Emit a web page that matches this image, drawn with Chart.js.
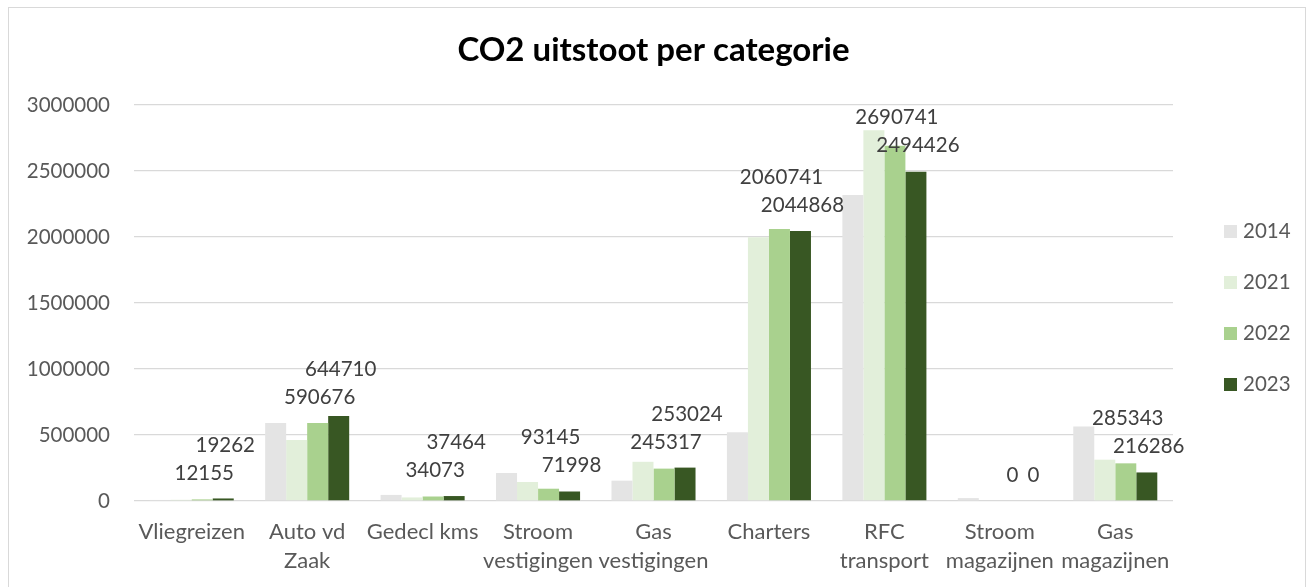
<!DOCTYPE html>
<html>
<head>
<meta charset="utf-8">
<script src="https://cdn.jsdelivr.net/npm/chart.js@4.4.1/dist/chart.umd.min.js"></script>
<style>
  html, body { margin: 0; padding: 0; background: #ffffff; }
  #wrap { width: 1314px; height: 587px; }
</style>
</head>
<body>
<div id="wrap"><canvas id="c" width="1314" height="587"></canvas></div>
<script>
// ---- data ----
const categories = [
  ['Vliegreizen'], ['Auto vd', 'Zaak'], ['Gedecl kms'], ['Stroom', 'vestigingen'],
  ['Gas', 'vestigingen'], ['Charters'], ['RFC', 'transport'], ['Stroom', 'magazijnen'], ['Gas', 'magazijnen']
];
const seriesNames = ['2014', '2021', '2022', '2023'];
const values2014 = [8000, 590000, 46000, 212000, 154000, 520000, 2318000, 22000, 565000];
const values2021 = [9000, 463000, 27000, 144000, 297000, 1998000, 2808000, 0, 313000];
const values2022 = [12155, 590676, 34073, 93145, 245317, 2060741, 2690741, 0, 285343];
const values2023 = [19262, 644710, 37464, 71998, 253024, 2044868, 2494426, 0, 216286];
const yTicks = [0, 500000, 1000000, 1500000, 2000000, 2500000, 3000000];
const titleText = 'CO2 uitstoot per categorie';

const seriesValues = [values2014, values2021, values2022, values2023];
const seriesColors = ['#e4e4e4', '#e2efda', '#a9d18e', '#385723'];
const labelledSeries = [2, 3];

const NUM_FONT = '20.5px Lato';

const framePlugin = {
  id: 'frame',
  beforeDraw(chart) {
    const ctx = chart.ctx;
    ctx.save();
    ctx.fillStyle = '#ffffff';
    ctx.fillRect(0, 0, chart.width, chart.height);
    ctx.restore();
  },
  afterDraw(chart) {
    const ctx = chart.ctx;
    const area = chart.chartArea;
    ctx.save();
    // outer border
    ctx.strokeStyle = '#d9d9d9';
    ctx.lineWidth = 1;
    ctx.strokeRect(8.5, 7.5, chart.width - 17, chart.height + 10);
    // legend
    const midY = (area.top + area.bottom) / 2 + 5;
    ctx.font = NUM_FONT;
    ctx.textAlign = 'left';
    ctx.textBaseline = 'middle';
    seriesNames.forEach((name, i) => {
      const y = midY + (i - 1.5) * 51;
      ctx.fillStyle = seriesColors[i];
      ctx.fillRect(area.right + 51, y - 6.5, 13, 13);
      ctx.fillStyle = '#595959';
      ctx.fillText(name, area.right + 70, y);
    });
    ctx.restore();
  }
};

const labelPlugin = {
  id: 'valueLabels',
  afterDatasetsDraw(chart) {
    const ctx = chart.ctx;
    ctx.save();
    ctx.font = NUM_FONT;
    ctx.fillStyle = '#404040';
    ctx.textAlign = 'center';
    ctx.textBaseline = 'middle';
    categories.forEach((c, i) => {
      const items = labelledSeries.map(di => {
        const bar = chart.getDatasetMeta(di).data[i];
        const v = chart.data.datasets[di].data[i];
        const text = String(v);
        return { x: bar.x + 2, y: bar.y - 26, w: ctx.measureText(text).width, text, v };
      }).sort((a, b) => a.v - b.v);
      const placed = [];
      items.forEach(it => {
        placed.forEach(p => {
          if (Math.abs(it.x - p.x) < (it.w + p.w) / 2 && Math.abs(it.y - p.y) < 30) {
            it.y = p.y - 28;
          }
        });
        placed.push(it);
        ctx.fillText(it.text, it.x, it.y);
      });
    });
    ctx.restore();
  }
};

new Chart(document.getElementById('c'), {
  type: 'bar',
  data: {
    labels: categories,
    datasets: seriesNames.map((name, i) => ({
      label: name,
      data: seriesValues[i],
      backgroundColor: seriesColors[i],
      borderWidth: 0,
      categoryPercentage: 0.728,
      barPercentage: 1.0
    }))
  },
  options: {
    responsive: false,
    animation: false,
    devicePixelRatio: 1,
    layout: { padding: { left: 8, right: 141, top: 0, bottom: 0 } },
    plugins: {
      legend: { display: false },
      tooltip: { enabled: false },
      title: {
        display: true,
        text: titleText,
        fullSize: false,
        color: '#000000',
        font: { family: 'Lato', size: 33, weight: 'bold', lineHeight: 1.2 },
        padding: { top: 31, bottom: 34.4 }
      }
    },
    scales: {
      x: {
        grid: { display: false, drawTicks: false },
        border: { display: false },
        ticks: {
          color: '#595959',
          font: { family: 'Lato', size: 22, lineHeight: 1.34 },
          padding: 16,
          maxRotation: 0,
          minRotation: 0,
          autoSkip: false
        },
        afterFit(scale) { scale.height = 86; }
      },
      y: {
        min: 0,
        max: yTicks[yTicks.length - 1],
        afterBuildTicks(scale) { scale.ticks = yTicks.map(v => ({ value: v })); },
        grid: { color: '#d9d9d9', lineWidth: 1.3, drawTicks: false },
        border: { display: false },
        ticks: {
          color: '#595959',
          font: { family: 'Lato', size: 20.5 },
          padding: 24,
          callback: v => String(v)
        },
        afterFit(scale) { scale.width = 126; }
      }
    }
  },
  plugins: [framePlugin, labelPlugin]
});
</script>
</body>
</html>
